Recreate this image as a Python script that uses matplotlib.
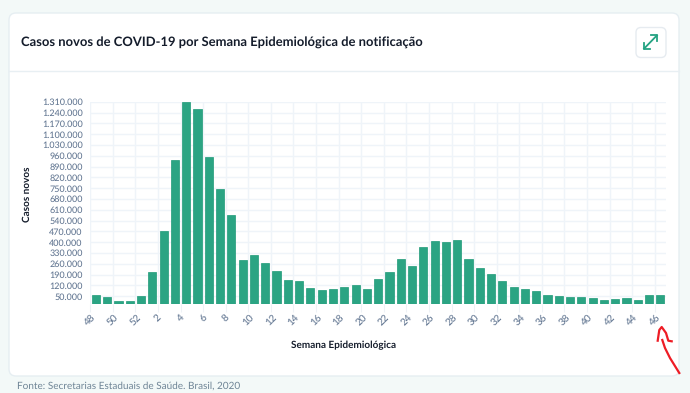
import matplotlib
matplotlib.use("Agg")
import matplotlib.pyplot as plt
from matplotlib.patches import FancyBboxPatch
from matplotlib.transforms import ScaledTranslation

plt.rcParams['font.family'] = ['Lato', 'DejaVu Sans']
plt.rcParams['text.hinting'] = 'no_hinting'
plt.rcParams['text.hinting_factor'] = 1

# semanas epidemiologicas, 48/2019 ate 46/2020
semanas = [48, 49, 50, 51, 52] + list(range(1, 47))
casos = [58, 47, 22, 17, 54, 205, 475, 932, 1306, 1261, 952, 743, 576,
         287, 315, 266, 214, 157, 151, 101, 93, 99, 108, 121, 95, 164,
         205, 289, 246, 367, 408, 401, 415, 289, 231, 196, 151, 112, 99,
         84, 56, 54, 47, 45, 39, 24, 35, 39, 24, 58, 58]
y_ticks = list(range(50000, 1310001, 70000))
titulo = "Casos novos de COVID-19 por Semana Epidemiológica de notificação"
fonte = "Fonte: Secretarias Estaduais de Saúde. Brasil, 2020"

W, H = 690, 393
fig = plt.figure(figsize=(W / 100, H / 100), dpi=100, facecolor='#f3f9f8')

# fundo em pixels: cartao, botao e seta vermelha
bg = fig.add_axes([0, 0, 1, 1])
bg.set_xlim(0, W)
bg.set_ylim(H, 0)
bg.axis('off')
bg.add_patch(FancyBboxPatch((9, 13), 670, 363, boxstyle="round,pad=0,rounding_size=7",
                            fc='white', ec='#e6eef2', lw=1))
bg.plot([9, 679], [71, 71], color='#e8eff3', lw=1)
bg.add_patch(FancyBboxPatch((636, 27.5), 30, 30, boxstyle="round,pad=0,rounding_size=5",
                            fc='white', ec='#e6ebf0', lw=1))
verde = '#24a382'
bg.plot([644, 657], [48.7, 35.3], color=verde, lw=1.3)
bg.plot([651, 657, 657], [35.3, 35.3, 41.3], color=verde, lw=1.3)
bg.plot([644, 644, 650], [42.7, 48.7, 48.7], color=verde, lw=1.3)
bg.text(21, 43, titulo, fontsize=9.2, fontweight='bold', color='#141c2b', va='center', ha='left')
bg.text(17, 386, fonte, fontsize=7.0, color='#6f8596', va='center', ha='left')
bg.text(27.5, 194, "Casos novos", fontsize=7.4, fontweight='bold', color='#141c2b',
        rotation=90, va='center', ha='center')
bg.text(344, 345, "Semana Epidemiológica", fontsize=7.4, fontweight='bold', color='#141c2b',
        va='center', ha='center')

bg.plot([679.3, 670, 665, 662.3], [373, 358, 348, 340], color='#ee1c25', lw=1.6)
bg.plot([657.7, 659.3, 661.7, 666, 668.3, 671.7], [340.7, 330, 327, 333, 340.7, 341.3], color='#ee1c25', lw=1.6)

ax = fig.add_axes([90.3 / W, (H - 304) / H, (666 - 90.3) / W, (304 - 101.7) / H])
ax.patch.set_alpha(0)
x = [i + 0.5 for i in range(len(semanas))]
ax.bar(x, [c * 1000 for c in casos], width=0.72, color='#2ba483', edgecolor='#1f9a78', linewidth=0.5, zorder=3)
ax.set_xlim(0, len(semanas))
ax.set_ylim(0, 1310000)
ax.set_yticks(y_ticks)
ax.set_yticklabels([f"{v:,}".replace(',', '.') for v in y_ticks], fontsize=6.5, fontweight='medium', color='#647893')
pos = list(range(0, len(semanas), 2))
ax.set_xticks(pos)
labels = ax.set_xticklabels([semanas[p] for p in pos], fontsize=7.4, fontweight='medium', color='#647893', rotation=45, ha='center')
for t in labels:
    t.set_transform(t.get_transform() + ScaledTranslation(3 / 100, 0, fig.dpi_scale_trans))
ax.grid(True, color='#eff4f9', lw=1, zorder=0)
ax.tick_params(axis='y', length=0, pad=5.5)
ax.tick_params(axis='x', length=6, color='#eef2f6', pad=0)
for s in ax.spines.values():
    s.set_visible(False)

plt.savefig('out.png', dpi=100, facecolor=fig.get_facecolor())
